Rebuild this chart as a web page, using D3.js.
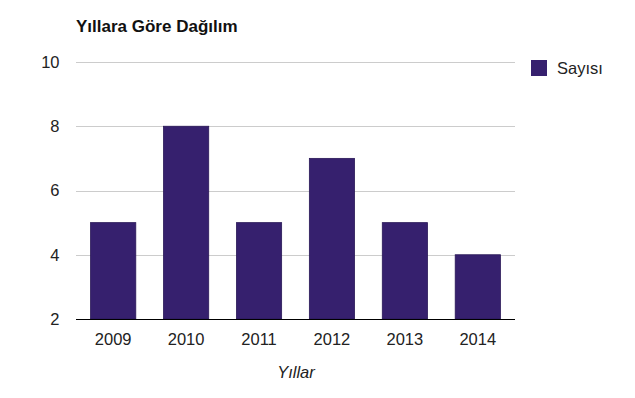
<!DOCTYPE html>
<html><head><meta charset="utf-8">
<script src="https://cdn.jsdelivr.net/npm/d3@7"></script>
<style>body{margin:0;background:#fff}svg{display:block;font-family:"Liberation Sans",Arial,sans-serif}</style>
</head><body>
<svg id="c" width="635" height="398"></svg>
<script>
const categories = ["2009","2010","2011","2012","2013","2014"];
const values = [5, 8, 5, 7, 5, 4];
const yTicks = [2, 4, 6, 8, 10];
const seriesName = "Sayısı";
const title = "Yıllara Göre Dağılım";
const xTitle = "Yıllar";
const color = "#36206e";

const svg = d3.select("#c");
const m = {l:76, r:515, t:62, b:319};
const x = d3.scaleBand().domain(categories).range([m.l, m.r]).paddingInner(0.38).paddingOuter(0.2);
const y = d3.scaleLinear().domain([2, 10]).range([m.b, m.t]);

svg.append("text").attr("x", 76).attr("y", 31.5).attr("font-size", 17).attr("font-weight", "bold").attr("fill", "#111").text(title);

// gridlines
svg.append("g").selectAll("line").data(yTicks.filter(d => d !== 2)).join("line")
  .attr("x1", m.l).attr("x2", m.r).attr("y1", d => Math.round(y(d)) + 0.5).attr("y2", d => Math.round(y(d)) + 0.5)
  .attr("stroke", "#cccccc");

// y labels
svg.append("g").selectAll("text").data(yTicks).join("text")
  .attr("x", 59.5).attr("y", d => y(d) + 5.8).attr("text-anchor", "end")
  .attr("font-size", 16.5).attr("fill", "#222").text(d => d);

// bars
svg.append("g").selectAll("rect").data(values).join("rect")
  .attr("x", (d, i) => x(categories[i])).attr("width", x.bandwidth())
  .attr("y", d => y(d)).attr("height", d => y(2) - y(d))
  .attr("fill", color).attr("stroke", "#2a1858").attr("stroke-width", 0.8);

// baseline
svg.append("line").attr("x1", m.l).attr("x2", m.r).attr("y1", m.b + 0.5).attr("y2", m.b + 0.5).attr("stroke", "#000").attr("stroke-width", 1.2);

// x labels
svg.append("g").selectAll("text").data(categories).join("text")
  .attr("x", d => x(d) + x.bandwidth() / 2).attr("y", 345).attr("text-anchor", "middle")
  .attr("font-size", 16.5).attr("fill", "#222").text(d => d);

svg.append("text").attr("x", 296).attr("y", 378).attr("text-anchor", "middle").attr("font-size", 16.5)
  .attr("font-style", "italic").attr("fill", "#222").text(xTitle);

// legend
svg.append("rect").attr("x", 531).attr("y", 60).attr("width", 16).attr("height", 16).attr("fill", color);
svg.append("text").attr("x", 557).attr("y", 73.5).attr("font-size", 16.5).attr("fill", "#222").text(seriesName);
</script>
</body></html>
